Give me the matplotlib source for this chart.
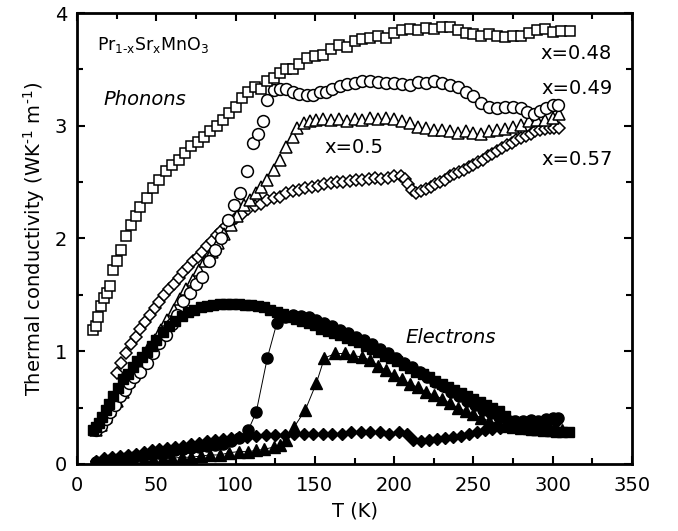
import matplotlib
matplotlib.use("Agg")
import matplotlib.pyplot as plt

# Pr(1-x)Sr(x)MnO3 thermal conductivity, phonon (open) and electron (filled) parts
# x = 0.48, phonons
T_p48 = [10, 12, 13, 15, 17, 19, 21, 23, 25, 28, 31, 34, 37, 40, 44, 48, 52, 56, 60, 64,
         68, 72, 76, 80, 84, 88, 92, 96, 100, 104, 108, 112, 116, 120, 124, 128, 132, 136,
         140, 145, 150, 155, 160, 165, 170, 175, 180, 185, 190, 195, 200, 205, 210, 215,
         220, 225, 230, 235, 240, 245, 250, 255, 260, 265, 270, 275, 280, 285, 290, 295,
         300, 305, 311]
K_p48 = [1.19, 1.22, 1.30, 1.40, 1.47, 1.52, 1.58, 1.72, 1.80, 1.90, 2.02, 2.12, 2.20, 2.28,
         2.36, 2.45, 2.52, 2.60, 2.65, 2.70, 2.76, 2.82, 2.86, 2.90, 2.95, 3.00, 3.05, 3.11,
         3.17, 3.25, 3.30, 3.34, 3.33, 3.40, 3.42, 3.47, 3.50, 3.50, 3.55, 3.60, 3.62, 3.63,
         3.68, 3.72, 3.70, 3.75, 3.77, 3.78, 3.80, 3.78, 3.82, 3.85, 3.86, 3.85, 3.87, 3.86,
         3.88, 3.88, 3.85, 3.82, 3.81, 3.80, 3.81, 3.80, 3.79, 3.80, 3.80, 3.82, 3.85, 3.86,
         3.83, 3.84, 3.84]

# x = 0.49, phonons
T_p49 = [12, 15, 18, 21, 24, 27, 30, 33, 36, 40, 44, 48, 52, 56, 60, 63, 67, 71, 75, 79,
         83, 87, 91, 95, 99, 103, 107, 111, 114, 117, 120, 124, 128, 132, 136, 140, 145, 149,
         153, 157, 161, 166, 170, 175, 180, 185, 190, 195, 200, 205, 210, 215, 220, 225, 230,
         235, 240, 245, 250, 255, 260, 265, 270, 275, 280, 284, 288, 292, 296, 300, 303]
K_p49 = [0.30, 0.34, 0.40, 0.46, 0.52, 0.60, 0.66, 0.72, 0.77, 0.82, 0.90, 0.98, 1.07, 1.14,
         1.24, 1.32, 1.45, 1.52, 1.60, 1.66, 1.80, 1.90, 2.00, 2.16, 2.30, 2.40, 2.60, 2.85,
         2.93, 3.04, 3.23, 3.32, 3.33, 3.33, 3.30, 3.28, 3.27, 3.27, 3.30, 3.30, 3.33, 3.35,
         3.37, 3.38, 3.40, 3.40, 3.39, 3.38, 3.38, 3.37, 3.36, 3.39, 3.38, 3.40, 3.38, 3.36,
         3.34, 3.30, 3.26, 3.20, 3.17, 3.16, 3.17, 3.17, 3.16, 3.12, 3.10, 3.13, 3.16, 3.18,
         3.18]

# x = 0.5, phonons
T_p50 = [12, 15, 18, 21, 25, 29, 33, 37, 41, 45, 49, 53, 57, 61, 65, 69, 73, 77, 81, 85,
         89, 93, 97, 101, 105, 109, 113, 116, 120, 124, 128, 132, 136, 139, 143, 147, 151,
         155, 160, 165, 170, 175, 180, 185, 190, 195, 200, 205, 210, 215, 220, 225, 230, 235,
         240, 245, 250, 255, 260, 265, 270, 275, 280, 285, 290, 295, 300, 304]
K_p50 = [0.30, 0.35, 0.42, 0.48, 0.56, 0.64, 0.74, 0.84, 0.93, 1.02, 1.10, 1.19, 1.28, 1.37,
         1.46, 1.55, 1.63, 1.72, 1.80, 1.88, 1.96, 2.04, 2.12, 2.20, 2.30, 2.34, 2.40, 2.46,
         2.52, 2.61, 2.70, 2.81, 2.90, 2.98, 3.02, 3.04, 3.05, 3.06, 3.05, 3.06, 3.04, 3.06,
         3.05, 3.07, 3.06, 3.07, 3.06, 3.04, 3.02, 2.99, 2.98, 2.96, 2.96, 2.95, 2.94, 2.95,
         2.94, 2.93, 2.95, 2.96, 2.97, 2.99, 3.01, 3.04, 3.05, 3.05, 3.07, 3.10]

# x = 0.57, phonons
T_p57 = [25, 28, 31, 34, 37, 40, 43, 46, 49, 52, 55, 58, 61, 64, 67, 70, 73, 76, 79, 82,
         85, 88, 91, 94, 97, 100, 104, 108, 112, 116, 120, 124, 128, 132, 136, 140, 144, 148,
         152, 156, 160, 164, 168, 172, 176, 180, 184, 188, 192, 196, 200, 204, 207, 209, 211,
         214, 217, 220, 223, 226, 229, 232, 235, 238, 241, 244, 247, 250, 253, 256, 259, 262,
         265, 268, 271, 274, 277, 280, 283, 286, 289, 292, 295, 298, 301, 304]
K_p57 = [0.81, 0.90, 0.98, 1.06, 1.13, 1.20, 1.26, 1.32, 1.38, 1.44, 1.50, 1.55, 1.60, 1.65,
         1.70, 1.75, 1.80, 1.84, 1.88, 1.93, 1.98, 2.03, 2.07, 2.11, 2.15, 2.18, 2.22, 2.26,
         2.29, 2.31, 2.34, 2.36, 2.37, 2.40, 2.42, 2.43, 2.45, 2.46, 2.47, 2.48, 2.49, 2.50,
         2.50, 2.51, 2.52, 2.52, 2.53, 2.54, 2.53, 2.54, 2.55, 2.55, 2.53, 2.48, 2.43, 2.40,
         2.42, 2.44, 2.46, 2.48, 2.50, 2.52, 2.55, 2.57, 2.59, 2.61, 2.63, 2.65, 2.68, 2.70,
         2.73, 2.75, 2.78, 2.80, 2.83, 2.85, 2.87, 2.89, 2.91, 2.93, 2.95, 2.96, 2.97, 2.98,
         2.98, 2.98]

# x = 0.48, electrons
T_e48 = [10, 12, 14, 16, 18, 20, 23, 26, 29, 32, 35, 38, 41, 44, 47, 50, 54, 58, 62, 66,
         70, 74, 78, 82, 86, 90, 94, 98, 102, 106, 110, 114, 118, 122, 126, 130, 134, 138,
         142, 146, 150, 154, 158, 162, 166, 170, 174, 178, 182, 186, 190, 194, 198, 202, 206,
         210, 214, 218, 222, 226, 230, 234, 238, 242, 246, 250, 254, 258, 262, 266, 270, 274,
         278, 282, 286, 290, 294, 298, 302, 306, 310]
K_e48 = [0.30, 0.33, 0.36, 0.42, 0.48, 0.53, 0.60, 0.67, 0.75, 0.80, 0.86, 0.91, 0.95, 0.99,
         1.05, 1.10, 1.17, 1.22, 1.27, 1.31, 1.35, 1.37, 1.39, 1.40, 1.41, 1.42, 1.42, 1.42,
         1.42, 1.41, 1.41, 1.40, 1.39, 1.37, 1.35, 1.33, 1.30, 1.29, 1.27, 1.25, 1.23, 1.20,
         1.18, 1.16, 1.14, 1.12, 1.10, 1.08, 1.05, 1.02, 0.99, 0.96, 0.94, 0.91, 0.88, 0.85,
         0.82, 0.80, 0.77, 0.74, 0.71, 0.68, 0.66, 0.63, 0.60, 0.58, 0.55, 0.52, 0.50, 0.47,
         0.43, 0.38, 0.34, 0.32, 0.30, 0.30, 0.29, 0.29, 0.28, 0.28, 0.28]

# x = 0.49, electrons
T_e49 = [12, 17, 22, 27, 32, 37, 42, 47, 52, 57, 62, 67, 72, 77, 82, 87, 92, 97, 102, 108,
         113, 120, 126, 131, 136, 141, 146, 151, 156, 161, 166, 171, 176, 181, 186, 191, 196,
         201, 206, 211, 216, 221, 226, 231, 236, 241, 246, 251, 256, 261, 266, 271, 276, 281,
         286, 291, 296, 300, 303]
K_e49 = [0.02, 0.03, 0.04, 0.05, 0.06, 0.07, 0.08, 0.09, 0.10, 0.11, 0.12, 0.13, 0.14, 0.15,
         0.16, 0.17, 0.18, 0.20, 0.23, 0.30, 0.46, 0.94, 1.25, 1.30, 1.32, 1.31, 1.30, 1.28,
         1.25, 1.22, 1.19, 1.16, 1.13, 1.10, 1.06, 1.02, 0.98, 0.94, 0.90, 0.86, 0.82, 0.77,
         0.73, 0.69, 0.64, 0.60, 0.56, 0.52, 0.48, 0.45, 0.42, 0.39, 0.38, 0.38, 0.39, 0.38,
         0.40, 0.41, 0.41]

# x = 0.5, electrons
T_e50 = [12, 18, 24, 30, 36, 42, 48, 54, 60, 66, 72, 78, 84, 90, 96, 102, 108, 113, 118, 124,
         128, 132, 137, 144, 151, 156, 163, 169, 174, 180, 185, 190, 195, 200, 205, 210, 215,
         220, 225, 230, 235, 240, 245, 250, 255, 260, 265, 270, 275, 280, 285, 290, 295, 300,
         306]
K_e50 = [0.01, 0.02, 0.02, 0.03, 0.03, 0.04, 0.04, 0.05, 0.05, 0.06, 0.06, 0.07, 0.08, 0.08,
         0.10, 0.11, 0.11, 0.12, 0.13, 0.15, 0.17, 0.21, 0.33, 0.48, 0.72, 0.94, 0.98, 0.98,
         0.96, 0.95, 0.92, 0.87, 0.83, 0.79, 0.75, 0.71, 0.68, 0.64, 0.61, 0.58, 0.54, 0.50,
         0.47, 0.44, 0.41, 0.38, 0.36, 0.34, 0.33, 0.32, 0.32, 0.31, 0.31, 0.30, 0.30]

# x = 0.57, electrons
T_e57 = [12, 17, 22, 27, 32, 37, 42, 47, 52, 57, 62, 67, 72, 77, 82, 87, 92, 97, 102, 107,
         113, 119, 125, 131, 137, 143, 149, 155, 161, 167, 173, 179, 185, 191, 197, 203, 208,
         212, 217, 222, 227, 232, 237, 242, 247, 252, 257, 262, 267, 272, 277, 282, 287, 292,
         297, 302]
K_e57 = [0.03, 0.05, 0.06, 0.07, 0.08, 0.09, 0.11, 0.12, 0.13, 0.14, 0.15, 0.16, 0.18, 0.19,
         0.20, 0.21, 0.22, 0.23, 0.24, 0.24, 0.25, 0.26, 0.26, 0.26, 0.27, 0.27, 0.27, 0.27,
         0.27, 0.27, 0.28, 0.28, 0.28, 0.28, 0.27, 0.28, 0.27, 0.21, 0.20, 0.21, 0.22, 0.23,
         0.24, 0.25, 0.27, 0.28, 0.30, 0.31, 0.32, 0.34, 0.35, 0.36, 0.36, 0.36, 0.37, 0.37]

fig = plt.figure(figsize=(6.78, 5.31), dpi=100)
ax = fig.add_axes([0.1136, 0.1262, 0.8186, 0.8493])

open_kw = dict(linestyle="none", markerfacecolor="white", markeredgecolor="black",
               markeredgewidth=1.1)
ax.plot(T_p57, K_p57, marker="D", markersize=6.5, **open_kw)
ax.plot(T_p50, K_p50, marker="^", markersize=8, **open_kw)
ax.plot(T_p49, K_p49, marker="o", markersize=8.5, **open_kw)
ax.plot(T_p48, K_p48, marker="s", markersize=7.5, **open_kw)

fill_kw = dict(color="black", markeredgecolor="black")
ax.plot(T_e57, K_e57, marker="D", markersize=6.5, linestyle="none", **fill_kw)
ax.plot(T_e50, K_e50, marker="^", markersize=8, linestyle="-", linewidth=0.7, **fill_kw)
ax.plot(T_e48, K_e48, marker="s", markersize=7.5, linestyle="none", **fill_kw)
ax.plot(T_e49, K_e49, marker="o", markersize=8, linestyle="-", linewidth=0.7, **fill_kw)

ax.set_xlim(0, 350)
ax.set_ylim(0, 4)
ax.set_xticks(range(0, 351, 50))
ax.set_xticks(range(25, 350, 50), minor=True)
ax.set_yticks([0, 1, 2, 3, 4])
ax.set_yticks([0.5, 1.5, 2.5, 3.5], minor=True)
ax.tick_params(which="both", direction="in", top=True, right=True, width=1.5,
               labelsize=14)
ax.tick_params(axis="x", pad=9)
ax.tick_params(axis="y", pad=7)
ax.tick_params(which="major", length=6)
ax.tick_params(which="minor", length=4)
for sp in ax.spines.values():
    sp.set_linewidth(2)

ax.set_xlabel("T (K)", fontsize=14, labelpad=4)
ax.set_ylabel("Thermal conductivity (WK$^{\\mathregular{\u20101}}$ m$^{\\mathregular{\u20101}}$)",
              fontsize=14, labelpad=6)

ax.text(12.6, 3.72,
        "Pr$_{\\mathregular{1\u2010x}}$Sr$_{\\mathregular{x}}$MnO$_{\\mathregular{3}}$",
        fontsize=12.5, ha="left", va="center")
ax.text(16.4, 3.23, "Phonons", fontsize=14, style="italic", ha="left", va="center")
ax.text(207, 1.12, "Electrons", fontsize=14, style="italic", ha="left", va="center")
ax.text(292, 3.64, "x=0.48", fontsize=14, ha="left", va="center")
ax.text(293, 3.33, "x=0.49", fontsize=14, ha="left", va="center")
ax.text(156, 2.81, "x=0.5", fontsize=14, ha="left", va="center")
ax.text(293, 2.70, "x=0.57", fontsize=14, ha="left", va="center")

fig.savefig("out.png", dpi=100)
